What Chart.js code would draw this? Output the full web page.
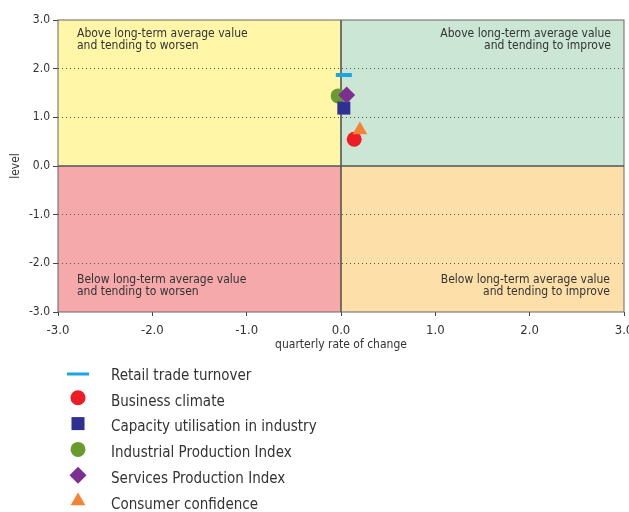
<!DOCTYPE html>
<html>
<head>
<meta charset="utf-8">
<script src="https://cdn.jsdelivr.net/npm/chart.js@4/dist/chart.umd.min.js"></script>
<style>
    body { margin: 0; background: #fff; }
    #wrap { width: 629px; height: 512px; position: relative; }
</style>
</head>
<body>
<div id="wrap"><canvas id="clockChart"></canvas></div>
<script>
const seriesNames = [
    'Retail trade turnover',
    'Business climate',
    'Capacity utilisation in industry',
    'Industrial Production Index',
    'Services Production Index',
    'Consumer confidence'
];
const rateOfChange = [0.03, 0.14, 0.03, -0.03, 0.06, 0.20];
const levels = [1.87, 0.55, 1.19, 1.44, 1.46, 0.74];
const seriesColors = ['#1aa7e1', '#ee1c25', '#2e3192', '#6b9a2f', '#7d2e91', '#f58235'];
const pointStyles = ['line', 'circle', 'rect', 'circle', 'rectRot', 'triangle'];
const pointSizes = [8, 7.5, 9.2, 7.5, 8.5, 8.5];
const drawOrder = [1, 3, 5, 6, 4, 2];

const quadrantLabels = [
    ['Above long-term average value', 'and tending to worsen'],
    ['Above long-term average value', 'and tending to improve'],
    ['Below long-term average value', 'and tending to worsen'],
    ['Below long-term average value', 'and tending to improve']
];
const quadrantColors = ['#fff6a8', '#cbe6d5', '#f5a9ab', '#fddfa9'];

const fontFamily = "'Liberation Sans Narrow', 'DejaVu Sans Condensed', 'Liberation Sans', sans-serif";
const textColor = '#333';
const gridValues = [2, 1, -1, -2];

const quadrants = {
    id: 'quadrants',
    beforeDraw(chart) {
        const { ctx, chartArea: area, scales: { x, y } } = chart;
        const x0 = x.getPixelForValue(0);
        const y0 = y.getPixelForValue(0);
        ctx.save();
        ctx.fillStyle = quadrantColors[0];
        ctx.fillRect(area.left, area.top, x0 - area.left, y0 - area.top);
        ctx.fillStyle = quadrantColors[1];
        ctx.fillRect(x0, area.top, area.right - x0, y0 - area.top);
        ctx.fillStyle = quadrantColors[2];
        ctx.fillRect(area.left, y0, x0 - area.left, area.bottom - y0);
        ctx.fillStyle = quadrantColors[3];
        ctx.fillRect(x0, y0, area.right - x0, area.bottom - y0);
        ctx.restore();
    },
    beforeDatasetsDraw(chart) {
        const { ctx, chartArea: area, scales: { x, y } } = chart;
        const x0 = x.getPixelForValue(0);
        const y0 = y.getPixelForValue(0);
        ctx.save();
        ctx.strokeStyle = '#666';
        ctx.lineWidth = 1;
        ctx.strokeRect(area.left, area.top, area.right - area.left, area.bottom - area.top);

        ctx.strokeStyle = '#555';
        ctx.lineWidth = 1.6;
        ctx.beginPath();
        ctx.moveTo(x0, area.top);
        ctx.lineTo(x0, area.bottom);
        ctx.moveTo(area.left, y0);
        ctx.lineTo(area.right, y0);
        ctx.stroke();

        // quadrant captions
        ctx.fillStyle = textColor;
        ctx.font = '12px ' + fontFamily;
        ctx.textBaseline = 'alphabetic';
        ctx.textAlign = 'left';
        quadrantLabels[0].forEach((t, i) => ctx.fillText(t, area.left + 19, area.top + 17 + i * 12));
        quadrantLabels[2].forEach((t, i) => ctx.fillText(t, area.left + 19, area.bottom - 29 + i * 12));
        ctx.textAlign = 'right';
        quadrantLabels[1].forEach((t, i) => ctx.fillText(t, area.right - 13, area.top + 17 + i * 12));
        quadrantLabels[3].forEach((t, i) => ctx.fillText(t, area.right - 14, area.bottom - 29 + i * 12));
        ctx.restore();
    }
};

const pointLegend = {
    id: 'pointLegend',
    afterDraw(chart) {
        const { ctx, chartArea: area } = chart;
        const top = area.bottom + 64;
        ctx.save();
        ctx.font = '15px ' + fontFamily;
        ctx.textBaseline = 'middle';
        ctx.textAlign = 'left';
        seriesNames.forEach((name, i) => {
            const rowY = top + i * 25.8;
            const isLine = pointStyles[i] === 'line';
            ctx.fillStyle = seriesColors[i];
            ctx.strokeStyle = seriesColors[i];
            ctx.lineWidth = 3;
            Chart.helpers.drawPoint(ctx, {
                pointStyle: pointStyles[i],
                radius: isLine ? 11 : pointSizes[i],
                rotation: 0,
                borderWidth: isLine ? 3 : 0
            }, 78, rowY - (isLine ? 2 : 4));
            ctx.fillStyle = textColor;
            ctx.fillText(name, 111, rowY);
        });
        ctx.restore();
    }
};

const datasets = seriesNames.map((name, i) => ({
    label: name,
    data: [{ x: rateOfChange[i], y: levels[i] }],
    pointStyle: pointStyles[i],
    pointRadius: pointSizes[i],
    pointHoverRadius: pointSizes[i],
    backgroundColor: seriesColors[i],
    borderColor: seriesColors[i],
    borderWidth: pointStyles[i] === 'line' ? 4 : 0,
    order: drawOrder[i]
}));

new Chart(document.getElementById('clockChart'), {
    type: 'scatter',
    data: { datasets },
    options: {
        responsive: true,
        maintainAspectRatio: false,
        animation: false,
        layout: {
            autoPadding: false,
            padding: { top: 20, right: 5, bottom: 159, left: 0 }
        },
        plugins: {
            legend: { display: false },
            tooltip: { enabled: false }
        },
        scales: {
            x: {
                min: -3,
                max: 3,
                border: { display: false },
                grid: {
                    drawOnChartArea: false,
                    tickLength: 4,
                    tickColor: '#444'
                },
                ticks: {
                    stepSize: 1,
                    padding: 7,
                    color: textColor,
                    font: { family: fontFamily, size: 13 },
                    callback: v => v.toFixed(1)
                },
                title: {
                    display: true,
                    text: 'quarterly rate of change',
                    color: textColor,
                    font: { family: fontFamily, size: 12 },
                    padding: { top: 0, bottom: 1 }
                },
                afterFit: scale => {
                    scale.height = 41;
                    scale.paddingLeft = 0;
                    scale.paddingRight = 0;
                }
            },
            y: {
                min: -3,
                max: 3,
                border: { display: false, dash: [1, 3] },
                grid: {
                    color: c => gridValues.includes(c.tick && c.tick.value) ? '#555' : 'rgba(0,0,0,0)',
                    tickColor: '#444',
                    tickLength: 5,
                    lineWidth: 1
                },
                ticks: {
                    stepSize: 1,
                    padding: 3,
                    color: textColor,
                    font: { family: fontFamily, size: 12 },
                    callback: v => v.toFixed(1)
                },
                title: {
                    display: true,
                    text: 'level',
                    color: textColor,
                    font: { family: fontFamily, size: 12 },
                    padding: { top: 9, bottom: 0 }
                },
                afterFit: scale => {
                    scale.width = 58;
                }
            }
        }
    },
    plugins: [quadrants, pointLegend]
});
</script>
</body>
</html>
